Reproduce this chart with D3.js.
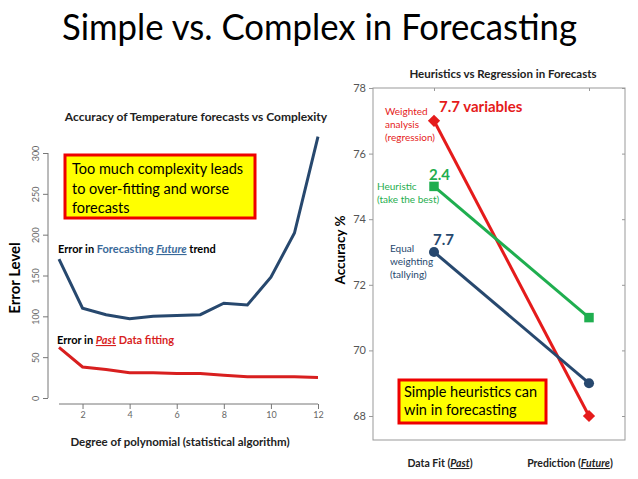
<!DOCTYPE html>
<html><head><meta charset="utf-8">
<script src="https://cdn.jsdelivr.net/npm/d3@7"></script>
<style>body{margin:0;background:#fff}text{font-family:Lato,"Open Sans",sans-serif}</style>
</head><body><svg id="c" width="638" height="479"></svg>
<script>
const degrees=[1,2,3,4,5,6,7,8,9,10,11,12];
const futureError=[170,110,102,97,100,101,102,116,114,148,202,320];
const pastError=[62,38,35,31,31,30,30,28,26,26,26,25];
const leftYTicks=[0,50,100,150,200,250,300];
const leftXTicks=[2,4,6,8,10,12];
const stages=["Data Fit","Prediction"];
const weighted=[77,68], heuristic=[75,71], tally=[73,69];
const rightYTicks=[68,70,72,74,76,78];

const svg=d3.select("#c");
svg.append("text").attr("x",62).attr("y",40).attr("font-size",36).attr("textLength",515).attr("lengthAdjust","spacingAndGlyphs").text("Simple vs. Complex in Forecasting");

// LEFT
const lx=d3.scaleLinear().domain([1,12]).range([59,318]);
const ly=d3.scaleLinear().domain([0,300]).range([398,153]);
const gl=svg.append("g");
gl.append("text").attr("x",196).attr("y",121).attr("text-anchor","middle").attr("font-size",12).attr("font-weight","bold").attr("fill","#222").text("Accuracy of Temperature forecasts vs Complexity");
const ya=gl.append("g").attr("transform","translate(48,0)").call(d3.axisLeft(ly).tickValues(leftYTicks).tickSize(5));
ya.selectAll("text").attr("transform","rotate(-90)").attr("x",0).attr("y",-9).attr("dy","0").attr("text-anchor","middle").attr("fill","#666").attr("font-family","'Liberation Sans',sans-serif").attr("font-size",9);
const xa=gl.append("g").attr("transform","translate(0,404)").call(d3.axisBottom(lx).tickValues(leftXTicks).tickSize(5));
xa.select(".domain").attr("d","M"+lx(1)+",0H"+lx(12));
xa.selectAll("text").attr("fill","#666").attr("font-family","'Liberation Sans',sans-serif").attr("font-size",9);
[ya,xa].forEach(a=>a.selectAll("path,line").attr("stroke","#777"));
ya.select(".domain").attr("d","M0,"+ly(0)+"V"+ly(300));
const line=d3.line().x((d,i)=>lx(degrees[i])).y(d=>ly(d));
gl.append("path").attr("d",line(futureError)).attr("fill","none").attr("stroke","#27486e").attr("stroke-width",3);
gl.append("path").attr("d",line(pastError)).attr("fill","none").attr("stroke","#d81f1f").attr("stroke-width",3);
gl.append("text").attr("transform","translate(20,278) rotate(-90)").attr("text-anchor","middle").attr("font-size",15).attr("font-weight","bold").text("Error Level");
gl.append("text").attr("x",180).attr("y",446).attr("text-anchor","middle").attr("font-size",11.5).attr("font-weight","bold").attr("fill","#222").text("Degree of polynomial (statistical algorithm)");
const t1=gl.append("text").attr("x",58).attr("y",253).attr("font-size",11).attr("font-weight","bold");
t1.append("tspan").text("Error in ");
t1.append("tspan").attr("fill","#3a6a9a").text("Forecasting ");
t1.append("tspan").attr("fill","#3a6a9a").attr("font-style","italic").attr("text-decoration","underline").text("Future");
t1.append("tspan").text(" trend");
const t2=gl.append("text").attr("x",57).attr("y",344).attr("font-size",11).attr("font-weight","bold");
t2.append("tspan").text("Error in ");
t2.append("tspan").attr("fill","#d81f1f").attr("font-style","italic").attr("text-decoration","underline").text("Past");
t2.append("tspan").attr("fill","#d81f1f").text(" Data fitting");
gl.append("rect").attr("x",65).attr("y",155).attr("width",190).attr("height",63).attr("fill","#ffff00").attr("stroke","#e00").attr("stroke-width",3);
["Too much complexity leads","to over-fitting and worse","forecasts"].forEach((s,i)=>gl.append("text").attr("x",72).attr("y",174+i*19.5).attr("font-size",14.5).text(s));

// RIGHT
const rx=d3.scalePoint().domain(stages).range([434,589]);
const ry=d3.scaleLinear().domain([68,78]).range([416,88]);
const gr=svg.append("g");
gr.append("text").attr("x",503).attr("y",78).attr("text-anchor","middle").attr("font-size",11.5).attr("font-weight","bold").attr("fill","#222").text("Heuristics vs Regression in Forecasts");
gr.append("rect").attr("x",373).attr("y",88).attr("width",252).attr("height",352).attr("fill","none").attr("stroke","#999");
const ra=gr.append("g").attr("transform","translate(373,0)").call(d3.axisLeft(ry).tickValues(rightYTicks).tickSize(4));
ra.select(".domain").remove();
ra.selectAll("line").attr("stroke","#999");
ra.selectAll("text").attr("fill","#555").attr("font-family","'Liberation Sans',sans-serif").attr("font-size",11);
const rr=gr.append("g").attr("transform","translate(625,0)").call(d3.axisRight(ry).tickValues(rightYTicks).tickSize(-3).tickFormat(""));
rr.select(".domain").remove(); rr.selectAll("line").attr("stroke","#999");
const bt=gr.append("g").attr("transform","translate(0,88)").call(d3.axisTop(rx).tickSize(-3).tickFormat(""));
bt.select(".domain").remove(); bt.selectAll("line").attr("stroke","#999");
gr.append("text").attr("transform","translate(345,250) rotate(-90)").attr("text-anchor","middle").attr("font-size",13.5).attr("font-weight","bold").text("Accuracy %");
const rl=d3.line().x((d,i)=>rx(stages[i])).y(d=>ry(d));
const series=[{v:weighted,c:"#e51b1b",s:d3.symbolSquare,sz:75,rot:45},{v:heuristic,c:"#1fae4f",s:d3.symbolSquare,sz:90,rot:0},{v:tally,c:"#27486e",s:d3.symbolCircle,sz:80,rot:0}];
series.forEach(o=>{
  gr.append("path").attr("d",rl(o.v)).attr("fill","none").attr("stroke",o.c).attr("stroke-width",3);
  o.v.forEach((d,i)=>gr.append("path").attr("transform",`translate(${rx(stages[i])},${ry(d)}) rotate(${o.rot})`).attr("d",d3.symbol(o.s,o.sz)()).attr("fill",o.c));
});
gr.append("text").attr("x",439).attr("y",112).attr("font-size",15).attr("font-weight","bold").attr("fill","#e51b1b").text("7.7 variables");
gr.append("text").attr("x",429).attr("y",180).attr("font-size",15).attr("font-weight","bold").attr("fill","#1fae4f").text("2.4");
gr.append("text").attr("x",433).attr("y",245).attr("font-size",15).attr("font-weight","bold").attr("fill","#27486e").text("7.7");
["Weighted","analysis","(regression)"].forEach((s,i)=>gr.append("text").attr("x",385).attr("y",115+i*13).attr("font-size",10).attr("fill","#e51b1b").text(s));
["Heuristic","(take the best)"].forEach((s,i)=>gr.append("text").attr("x",377).attr("y",190+i*13).attr("font-size",10).attr("fill","#1fae4f").text(s));
["Equal","weighting","(tallying)"].forEach((s,i)=>gr.append("text").attr("x",390).attr("y",252+i*13).attr("font-size",10).attr("fill","#27486e").text(s));
gr.append("rect").attr("x",399).attr("y",380).attr("width",147).attr("height",43).attr("fill","#ffff00").attr("stroke","#e00").attr("stroke-width",3);
["Simple heuristics can","win in forecasting"].forEach((s,i)=>gr.append("text").attr("x",404).attr("y",397+i*18).attr("font-size",14.5).text(s));
const b1=gr.append("text").attr("x",440).attr("y",467).attr("text-anchor","middle").attr("font-size",10.5).attr("font-weight","bold").attr("fill","#222");
b1.append("tspan").text("Data Fit (");b1.append("tspan").attr("font-style","italic").attr("text-decoration","underline").text("Past");b1.append("tspan").text(")");
const b2=gr.append("text").attr("x",570).attr("y",467).attr("text-anchor","middle").attr("font-size",10.5).attr("font-weight","bold").attr("fill","#222");
b2.append("tspan").text("Prediction (");b2.append("tspan").attr("font-style","italic").attr("text-decoration","underline").text("Future");b2.append("tspan").text(")");
</script></body></html>
